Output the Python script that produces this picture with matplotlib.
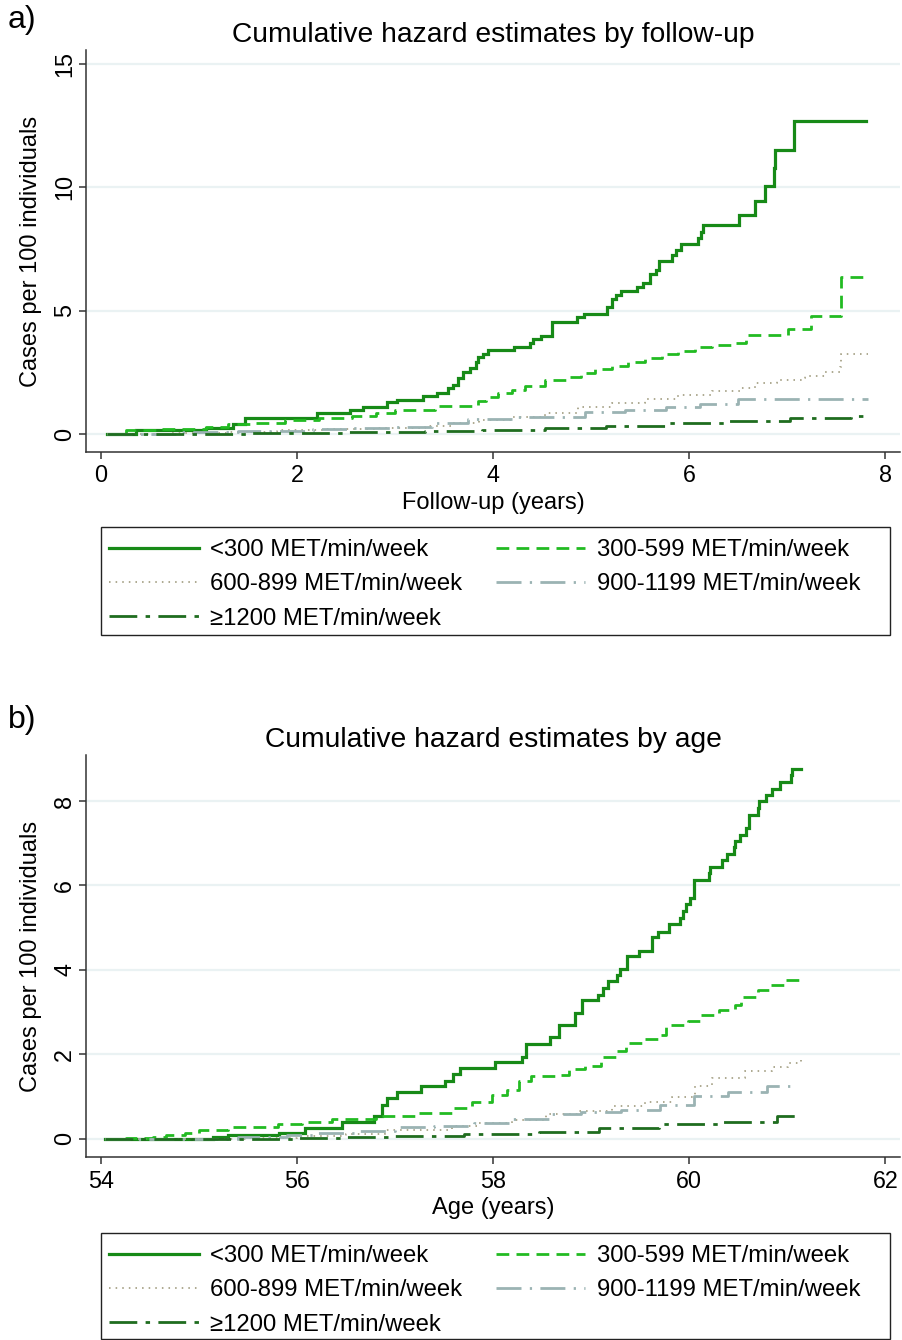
import numpy as np
import matplotlib
matplotlib.use('Agg')
import matplotlib.pyplot as plt
from matplotlib.patches import Rectangle

plt.rcParams['font.family'] = ['Liberation Sans', 'DejaVu Sans']

# Legend labels
labels = ['<300 MET/min/week', '300-599 MET/min/week', '600-899 MET/min/week',
          '900-1199 MET/min/week', '\u22651200 MET/min/week']

# Panel a: cumulative hazard by follow-up (years), step knots
fu_t_lt300 = [0.06, 0.36, 1.07, 1.35, 1.47, 2.20, 2.54, 2.67, 2.92, 3.02, 3.28, 3.43, 3.54, 3.59, 3.64,
              3.69, 3.76, 3.83, 3.85, 3.90, 3.95, 4.21, 4.38, 4.41, 4.49, 4.60, 4.86, 4.93, 5.16, 5.21,
              5.25, 5.30, 5.47, 5.53, 5.60, 5.66, 5.69, 5.82, 5.87, 5.92, 6.09, 6.12, 6.14, 6.51, 6.67,
              6.77, 6.86, 6.87, 7.07, 7.80]
fu_h_lt300 = [0.00, 0.16, 0.26, 0.40, 0.66, 0.84, 0.97, 1.10, 1.30, 1.38, 1.54, 1.66, 1.86, 1.98, 2.27,
              2.51, 2.67, 2.91, 3.12, 3.24, 3.40, 3.53, 3.67, 3.83, 3.97, 4.55, 4.72, 4.86, 5.15, 5.46,
              5.63, 5.79, 5.94, 6.13, 6.48, 6.64, 7.02, 7.25, 7.45, 7.68, 7.92, 8.19, 8.46, 8.87, 9.45,
              10.04, 10.77, 11.50, 12.67, 12.67]
fu_t_300 = [0.06, 0.25, 0.60, 1.07, 1.30, 1.55, 1.88, 2.22, 2.56, 2.80, 3.00, 3.41, 3.85, 3.93, 4.05,
            4.19, 4.33, 4.53, 4.74, 4.90, 5.04, 5.21, 5.38, 5.55, 5.72, 5.89, 6.06, 6.23, 6.43, 6.58,
            7.01, 7.24, 7.55, 7.82]
fu_h_300 = [0.00, 0.16, 0.22, 0.29, 0.40, 0.46, 0.57, 0.64, 0.73, 0.84, 0.97, 1.13, 1.35, 1.51, 1.66,
            1.78, 1.94, 2.19, 2.32, 2.46, 2.63, 2.77, 2.90, 3.07, 3.24, 3.36, 3.53, 3.60, 3.70, 4.02,
            4.27, 4.78, 6.37, 6.37]
fu_t_600 = [0.06, 0.70, 1.30, 1.80, 2.30, 2.80, 3.30, 3.60, 3.86, 4.19, 4.53, 4.87, 5.21, 5.55, 5.89,
            6.23, 6.53, 6.67, 6.90, 7.16, 7.18, 7.39, 7.54, 7.55, 7.82]
fu_h_600 = [0.00, 0.04, 0.10, 0.15, 0.20, 0.26, 0.32, 0.45, 0.57, 0.70, 0.86, 1.09, 1.27, 1.41, 1.58,
            1.74, 1.86, 2.06, 2.19, 2.27, 2.36, 2.52, 2.73, 3.24, 3.24]
fu_t_900 = [0.06, 0.80, 1.40, 2.16, 2.56, 2.95, 3.38, 3.74, 4.19, 4.94, 5.35, 5.76, 6.11, 6.50, 7.82]
fu_h_900 = [0.00, 0.06, 0.12, 0.20, 0.24, 0.30, 0.46, 0.60, 0.68, 0.88, 0.97, 1.11, 1.21, 1.40, 1.40]
fu_t_1200 = [0.06, 1.50, 2.50, 3.30, 3.89, 4.53, 5.15, 5.79, 6.40, 7.03, 7.65, 7.82]
fu_h_1200 = [0.00, 0.04, 0.08, 0.13, 0.16, 0.26, 0.34, 0.43, 0.53, 0.63, 0.73, 0.73]

# Panel b: cumulative hazard by age (years)
age_t_lt300 = [54.04, 55.14, 55.30, 55.82, 56.08, 56.46, 56.78, 56.87, 56.92, 57.02, 57.26, 57.51, 57.59,
               57.66, 58.02, 58.29, 58.34, 58.58, 58.67, 58.83, 58.91, 59.07, 59.12, 59.17, 59.26, 59.29,
               59.37, 59.49, 59.62, 59.68, 59.79, 59.91, 59.94, 59.97, 60.01, 60.05, 60.20, 60.21, 60.33,
               60.39, 60.46, 60.47, 60.52, 60.58, 60.61, 60.70, 60.71, 60.78, 60.84, 60.93, 61.04, 61.05,
               61.14]
age_h_lt300 = [0.00, 0.05, 0.10, 0.14, 0.26, 0.41, 0.55, 0.81, 0.97, 1.11, 1.26, 1.38, 1.54,
               1.68, 1.82, 1.95, 2.25, 2.42, 2.70, 2.99, 3.28, 3.41, 3.57, 3.73, 3.89, 4.02,
               4.32, 4.46, 4.77, 4.91, 5.09, 5.23, 5.39, 5.55, 5.70, 6.14, 6.30, 6.44, 6.61,
               6.75, 6.91, 7.06, 7.20, 7.36, 7.68, 7.84, 7.99, 8.15, 8.29, 8.45, 8.61, 8.76,
               8.76]
age_t_300 = [54.04, 54.25, 54.53, 54.66, 54.86, 55.00, 55.30, 55.81, 56.05, 56.36, 56.80, 57.20, 57.58,
             57.78, 57.99, 58.14, 58.26, 58.39, 58.64, 58.77, 58.94, 59.10, 59.25, 59.36, 59.55, 59.69,
             59.76, 59.99, 60.11, 60.30, 60.47, 60.53, 60.70, 60.83, 60.99, 61.14]
age_h_300 = [0.00, 0.03, 0.05, 0.08, 0.14, 0.20, 0.28, 0.36, 0.41, 0.47, 0.55, 0.62, 0.74,
             0.88, 1.04, 1.16, 1.36, 1.48, 1.52, 1.65, 1.73, 1.95, 2.07, 2.28, 2.36, 2.46,
             2.70, 2.78, 2.94, 3.06, 3.18, 3.37, 3.53, 3.65, 3.75, 3.81]
age_t_600 = [54.04, 55.50, 56.00, 56.50, 56.90, 57.58, 57.86, 58.19, 58.54, 58.87, 59.21, 59.55, 59.82,
             60.06, 60.23, 60.57, 60.84, 61.01, 61.14]
age_h_600 = [0.00, 0.02, 0.06, 0.12, 0.22, 0.31, 0.37, 0.45, 0.59, 0.65, 0.77, 0.88, 1.00,
             1.24, 1.44, 1.60, 1.70, 1.79, 1.86]
age_t_900 = [54.04, 55.40, 55.90, 56.20, 56.60, 57.00, 57.40, 57.80, 58.20, 58.60, 58.90, 59.30, 59.70,
             60.05, 60.40, 60.79, 61.11]
age_h_900 = [0.00, 0.04, 0.08, 0.14, 0.19, 0.28, 0.31, 0.38, 0.47, 0.59, 0.63, 0.69, 0.81,
             1.02, 1.11, 1.24, 1.25]
age_t_1200 = [54.04, 56.00, 56.50, 57.00, 57.70, 58.47, 59.08, 59.69, 60.30, 60.90, 61.14]
age_h_1200 = [0.00, 0.02, 0.05, 0.07, 0.11, 0.17, 0.25, 0.35, 0.41, 0.53, 0.53]

# line styles: colour, width, dash pattern
styles = [
    dict(color='#178a17', lw=2.3, ls='-'),
    dict(color='#22bb22', lw=2.0, ls=(0, (4.6, 2.6))),
    dict(color='#ada990', lw=1.4, ls=(0, (0.8, 2.6))),
    dict(color='#9bb3b3', lw=2.0, ls=(0, (9, 3, 0.8, 3))),
    dict(color='#1f6d1f', lw=2.0, ls=(0, (10, 3, 1.6, 3))),
]

W, H = 902, 1340
fig = plt.figure(figsize=(W / 100, H / 100), dpi=100)


def fx(px):
    return px / W


def fy(py):
    return 1 - py / H


def make_panel(top, bottom, series, xlim, ylim, xticks, yticks, title, xlabel, tag, tag_y):
    ax = fig.add_axes([fx(86), fy(bottom), fx(900) - fx(86), fy(top) - fy(bottom)])
    for (t, h), st in zip(series, styles):
        ax.plot(t, h, drawstyle='steps-post', solid_joinstyle='miter', **st)
    ax.set_xlim(*xlim)
    ax.set_ylim(*ylim)
    ax.set_xticks(xticks)
    ax.set_yticks(yticks)
    ax.yaxis.grid(True, color='#eaf2f3', lw=1.6)
    ax.set_axisbelow(True)
    for s in ['top', 'right']:
        ax.spines[s].set_visible(False)
    for s in ['left', 'bottom']:
        ax.spines[s].set_color('#333333')
        ax.spines[s].set_linewidth(1.1)
    ax.tick_params(direction='out', length=5, width=1.1, color='#333333', labelsize=16.8)
    ax.tick_params(axis='x', pad=4)
    ax.tick_params(axis='y', pad=2)
    for lab in ax.get_yticklabels():
        lab.set_rotation(90)
        lab.set_va('center')
    ax.set_title(title, fontsize=20.3, pad=6)
    ax.set_xlabel(xlabel, fontsize=17, labelpad=3)
    ax.set_ylabel('Cases per 100 individuals', fontsize=17, labelpad=8)
    fig.text(fx(8), fy(tag_y), tag, fontsize=23, va='center', ha='left')
    return ax


ax1 = make_panel(50, 452,
                 [(fu_t_lt300, fu_h_lt300), (fu_t_300, fu_h_300), (fu_t_600, fu_h_600),
                  (fu_t_900, fu_h_900), (fu_t_1200, fu_h_1200)],
                 (-0.153, 8.15), (-0.73, 15.55), [0, 2, 4, 6, 8], [0, 5, 10, 15],
                 'Cumulative hazard estimates by follow-up', 'Follow-up (years)', 'a)', 20)
ax2 = make_panel(755, 1157,
                 [(age_t_lt300, age_h_lt300), (age_t_300, age_h_300), (age_t_600, age_h_600),
                  (age_t_900, age_h_900), (age_t_1200, age_h_1200)],
                 (53.847, 62.15), (-0.43, 9.09), [54, 56, 58, 60, 62], [0, 2, 4, 6, 8],
                 'Cumulative hazard estimates by age', 'Age (years)', 'b)', 720)


def add_legend(ax, top, bottom):
    fig.patches.append(Rectangle((fx(101), fy(bottom)), fx(890) - fx(101), fy(top) - fy(bottom),
                                 transform=fig.transFigure, fill=False, ec='#222222', lw=1.0))
    handles = ax.get_lines()
    order = [0, 2, 4, 1, 3]
    leg = fig.legend([handles[i] for i in order] + [plt.Line2D([], [], lw=0)],
                     [labels[i] for i in order] + [''],
                     ncol=2, loc='upper left', bbox_to_anchor=(fx(109), fy(top + 12)),
                     frameon=False, fontsize=17.2, handlelength=3.75, handletextpad=0.48,
                     columnspacing=1.4, labelspacing=0.52, borderpad=0, borderaxespad=0)
    return leg


add_legend(ax1, 527, 635)
add_legend(ax2, 1233, 1339)

fig.savefig('out.png', dpi=100)
